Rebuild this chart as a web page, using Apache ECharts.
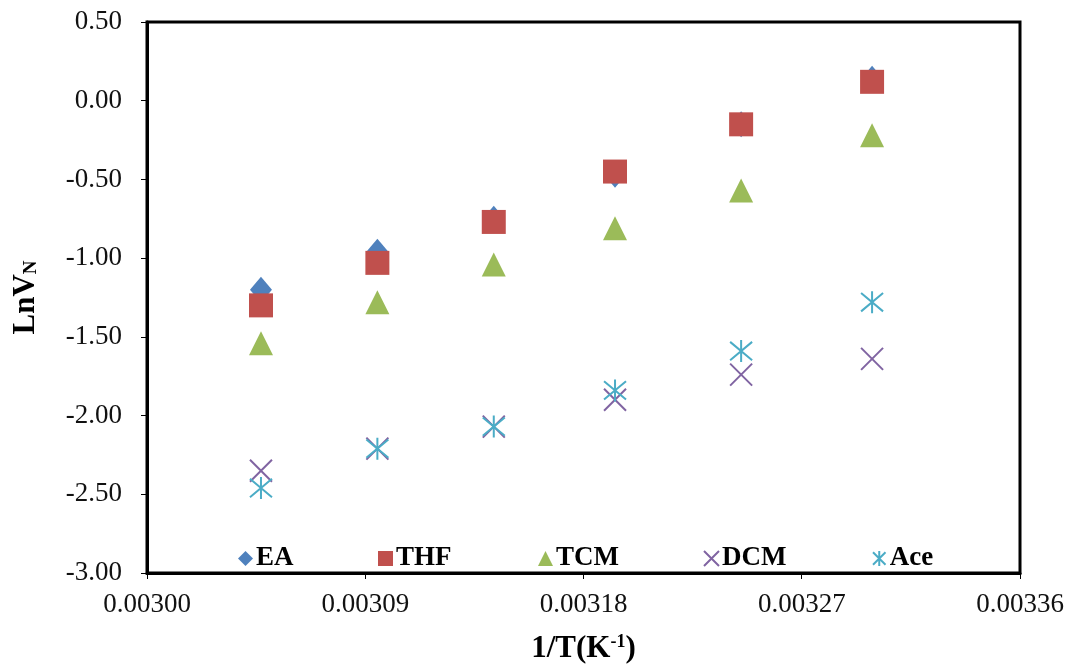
<!DOCTYPE html>
<html>
<head>
<meta charset="utf-8">
<script src="https://cdn.jsdelivr.net/npm/echarts@6/dist/echarts.min.js"></script>
<style>
  html, body { margin: 0; padding: 0; background: #fff; }
  #chart { width: 1067px; height: 668px; }
</style>
</head>
<body>
<div id="chart"></div>
<script>
// 1/T values (K^-1), 55..30 °C
var invT = [0.003047, 0.003095, 0.003143, 0.003193, 0.003245, 0.003299];
// LnVN for each probe
var ea  = [-1.20, -0.96, -0.75, -0.47, -0.15, 0.14];
var thf = [-1.30, -1.03, -0.77, -0.45, -0.15, 0.12];
var tcm = [-1.54, -1.28, -1.04, -0.81, -0.57, -0.22];
var dcm = [-2.35, -2.21, -2.07, -1.90, -1.74, -1.64];
var ace = [-2.46, -2.21, -2.07, -1.84, -1.59, -1.28];
var seriesNames = ['EA', 'THF', 'TCM', 'DCM', 'Ace'];

var serif = 'Liberation Serif';
var crossPath = 'path://M0 0 L10 10 M10 0 L0 10';
var starPath = 'path://M0 0 L10 10 M10 0 L0 10 M5 -1 L5 11';

function pts (ys) {
  return invT.map(function (x, i) { return [x, ys[i]] })
}

// one legend per entry so each one sits where it does in the figure
var legendLeft = [233, 373, 533, 698, 867];
var legends = seriesNames.map(function (n, i) {
  return {
    data: [n],
    left: legendLeft[i], top: 540,
    itemWidth: 15, itemHeight: 15,
    textStyle: { fontFamily: serif, fontWeight: 'bold', fontSize: 27, color: '#000', padding: [0, 0, 0, -2] }
  }
})

var chart = echarts.init(document.getElementById('chart'))
chart.setOption({
  animation: false,
  backgroundColor: '#fff',
  grid: {
    left: 147, right: 47, top: 22, bottom: 95,
    outerBoundsMode: 'none',
    show: true, borderColor: '#000', borderWidth: 3
  },
  legend: legends,
  xAxis: {
    type: 'value',
    min: 0.003, max: 0.00336, interval: 0.00009,
    splitLine: { show: false },
    axisLine: { onZero: false, lineStyle: { color: '#000', width: 3 } },
    axisTick: { show: true, length: 6, lineStyle: { color: '#000', width: 1 } },
    axisLabel: {
      margin: 18, fontFamily: serif, fontSize: 27, color: '#111',
      formatter: function (v) { return v.toFixed(5) }
    },
    name: '{a|1/T(K}{b|-1}{a|)}',
    nameLocation: 'middle', nameGap: 60,
    nameTextStyle: {
      rich: {
        a: { fontFamily: serif, fontWeight: 'bold', fontSize: 31, color: '#000' },
        b: { fontFamily: serif, fontWeight: 'bold', fontSize: 18, color: '#000', verticalAlign: 'top', padding: [0, 0, 14, 0] }
      }
    }
  },
  yAxis: {
    type: 'value',
    min: -3, max: 0.5, interval: 0.5,
    splitLine: { show: false },
    axisLine: { onZero: false, lineStyle: { color: '#000', width: 3 } },
    axisTick: { show: true, length: 6, lineStyle: { color: '#000', width: 1 } },
    axisLabel: {
      margin: 25, fontFamily: serif, fontSize: 27, color: '#111',
      formatter: function (v) { return v.toFixed(2) }
    },
    name: '{a|LnV}{b|N}',
    nameLocation: 'middle', nameRotate: 90, nameGap: 106,
    nameTextStyle: {
      rich: {
        a: { fontFamily: serif, fontWeight: 'bold', fontSize: 31, color: '#000' },
        b: { fontFamily: serif, fontWeight: 'bold', fontSize: 19, color: '#000', verticalAlign: 'bottom', padding: [12, 0, 0, 0] }
      }
    }
  },
  series: [
    {
      name: 'EA', type: 'scatter', data: pts(ea),
      symbol: 'diamond', symbolSize: [22, 26],
      itemStyle: { color: '#4f81bd', opacity: 1 }
    },
    {
      name: 'THF', type: 'scatter', data: pts(thf),
      symbol: 'rect', symbolSize: 24,
      itemStyle: { color: '#c0504d', opacity: 1 }
    },
    {
      name: 'TCM', type: 'scatter', data: pts(tcm),
      symbol: 'triangle', symbolSize: 24,
      itemStyle: { color: '#9bbb59', opacity: 1 }
    },
    {
      name: 'DCM', type: 'scatter', data: pts(dcm),
      symbol: crossPath, symbolSize: 22,
      itemStyle: { color: 'transparent', borderColor: '#8064a2', borderWidth: 2, opacity: 1 }
    },
    {
      name: 'Ace', type: 'scatter', data: pts(ace),
      symbol: starPath, symbolSize: 22,
      itemStyle: { color: 'transparent', borderColor: '#4bacc6', borderWidth: 2, opacity: 1 }
    }
  ]
})
</script>
</body>
</html>
